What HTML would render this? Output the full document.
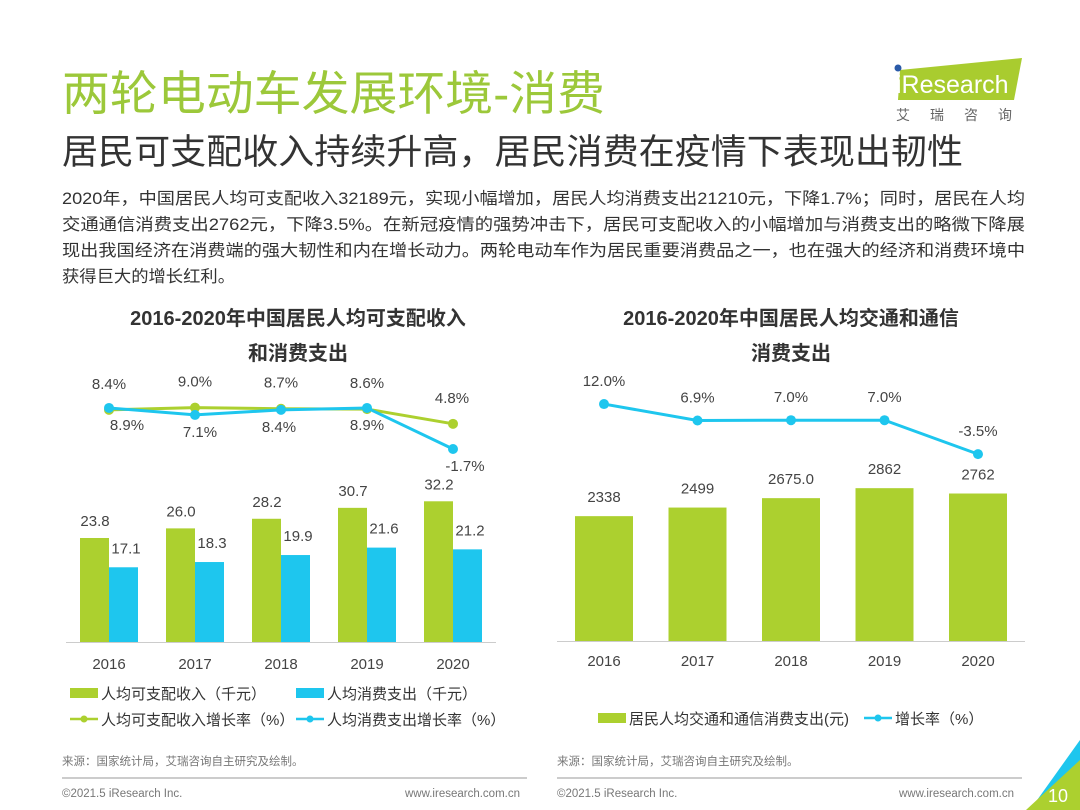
<!DOCTYPE html>
<html><head><meta charset="utf-8"><style>
html,body{margin:0;padding:0;background:#fff;}
svg{display:block;font-family:"Liberation Sans","Noto Sans CJK SC",sans-serif;}
</style></head><body>
<svg id="s" width="1080" height="810" viewBox="0 0 1080 810" xmlns="http://www.w3.org/2000/svg">
<text x="62" y="110" font-size="47" fill="#9cc83a" textLength="543" lengthAdjust="spacingAndGlyphs">两轮电动车发展环境-消费</text>
<text x="62" y="164" font-size="35" fill="#333" textLength="901" lengthAdjust="spacingAndGlyphs">居民可支配收入持续升高，居民消费在疫情下表现出韧性</text>
<g font-size="16.5" fill="#333">
<text x="62" y="204" textLength="963" lengthAdjust="spacingAndGlyphs">2020年，中国居民人均可支配收入32189元，实现小幅增加，居民人均消费支出21210元，下降1.7%；同时，居民在人均</text>
<text x="62" y="230" textLength="963" lengthAdjust="spacingAndGlyphs">交通通信消费支出2762元，下降3.5%。在新冠疫情的强势冲击下，居民可支配收入的小幅增加与消费支出的略微下降展</text>
<text x="62" y="256" textLength="963" lengthAdjust="spacingAndGlyphs">现出我国经济在消费端的强大韧性和内在增长动力。两轮电动车作为居民重要消费品之一，也在强大的经济和消费环境中</text>
<text x="62" y="282" textLength="173" lengthAdjust="spacingAndGlyphs">获得巨大的增长红利。</text>
</g>
<g>
<polygon points="900,70 1022,58 1014,100 898,100" fill="#a9cc2f"/>
<circle cx="898" cy="68" r="3.5" fill="#2a5aa8"/>
<text x="896" y="93" font-size="25" fill="#fff">iResearch</text>
<text x="896" y="120" font-size="14" fill="#666" letter-spacing="20">艾瑞咨询</text>
</g>
<text x="298" y="325" font-size="20" font-weight="bold" fill="#333" text-anchor="middle">2016-2020年中国居民人均可支配收入</text>
<text x="298" y="360" font-size="20" font-weight="bold" fill="#333" text-anchor="middle">和消费支出</text>
<text x="791" y="325" font-size="20" font-weight="bold" fill="#333" text-anchor="middle">2016-2020年中国居民人均交通和通信</text>
<text x="791" y="360" font-size="20" font-weight="bold" fill="#333" text-anchor="middle">消费支出</text>
<g id="lc"></g>
<g id="rc"></g>
<g font-size="15" fill="#333">
<rect x="70" y="688" width="28" height="10" fill="#acd02f"/>
<text x="101" y="699">人均可支配收入（千元）</text>
<rect x="296" y="688" width="28" height="10" fill="#1ec6ee"/>
<text x="327" y="699">人均消费支出（千元）</text>
<line x1="70" y1="719" x2="98" y2="719" stroke="#acd02f" stroke-width="2.5"/><circle cx="84" cy="719" r="3.5" fill="#acd02f"/>
<text x="101" y="725">人均可支配收入增长率（%）</text>
<line x1="296" y1="719" x2="324" y2="719" stroke="#1ec6ee" stroke-width="2.5"/><circle cx="310" cy="719" r="3.5" fill="#1ec6ee"/>
<text x="327" y="725">人均消费支出增长率（%）</text>
<rect x="598" y="713" width="28" height="10" fill="#acd02f"/>
<text x="629" y="724">居民人均交通和通信消费支出(元)</text>
<line x1="864" y1="718" x2="892" y2="718" stroke="#1ec6ee" stroke-width="2.5"/><circle cx="878" cy="718" r="3.5" fill="#1ec6ee"/>
<text x="895" y="724">增长率（%）</text>
</g>
<g font-size="11.5" fill="#777">
<text x="62" y="765">来源：国家统计局，艾瑞咨询自主研究及绘制。</text>
<text x="557" y="765">来源：国家统计局，艾瑞咨询自主研究及绘制。</text>
<line x1="62" y1="778" x2="527" y2="778" stroke="#999"/>
<line x1="557" y1="778" x2="1022" y2="778" stroke="#999"/>
<text x="62" y="797">©2021.5 iResearch Inc.</text>
<text x="520" y="797" text-anchor="end">www.iresearch.com.cn</text>
<text x="557" y="797">©2021.5 iResearch Inc.</text>
<text x="1014" y="797" text-anchor="end">www.iresearch.com.cn</text>
</g>
<g>
<polygon points="1080,740 1080,810 1030,810" fill="#1ec6ee"/>
<polygon points="1080,760 1080,810 1026,810" fill="#acd02f"/>
<text x="1058" y="802" font-size="18" fill="#fff" text-anchor="middle">10</text>
</g>
</svg>
<script>
var years=["2016","2017","2018","2019","2020"];
var income=[23.8,26.0,28.2,30.7,32.2];
var expense=[17.1,18.3,19.9,21.6,21.2];
var incomeRate=[8.4,9.0,8.7,8.6,4.8];
var expenseRate=[8.9,7.1,8.4,8.9,-1.7];
var transport=[2338,2499,2675.0,2862,2762];
var transportLabels=["2338","2499","2675.0","2862","2762"];
var transportRate=[12.0,6.9,7.0,7.0,-3.5];

var NS="http://www.w3.org/2000/svg";
function mk(p,t,a,txt){var e=document.createElementNS(NS,t);for(var k in a)e.setAttribute(k,a[k]);if(txt!==undefined)e.textContent=txt;p.appendChild(e);return e;}
var G="#acd02f",B="#1ec6ee",T="#444";
var lc=document.getElementById('lc');
var lx=function(i){return 109+i*86;};
var lyBar=function(v){return 642-v*4.37;};
var lyRate=function(v){return 442.4-v*3.87;};
var ax=mk(lc,'line',{x1:66,y1:642.5,x2:496,y2:642.5,stroke:'#ccc'});


years.forEach(function(y,i){
 var c=lx(i);
 var r=mk(lc,'rect',{x:c-29,y:lyBar(income[i]),width:29,height:642-lyBar(income[i]),fill:G});
 
 
 var r2=mk(lc,'rect',{x:c,y:lyBar(expense[i]),width:29,height:642-lyBar(expense[i]),fill:B});
 
 
 var t=mk(lc,'text',{x:c-14,y:lyBar(income[i])-12,'font-size':15,fill:T,'text-anchor':'middle'},income[i].toFixed(1));
 
 
 var t2=mk(lc,'text',{x:c+17,y:lyBar(expense[i])-14,'font-size':15,fill:T,'text-anchor':'middle'},expense[i].toFixed(1));
 
 
 var xl=mk(lc,'text',{x:c,y:669,'font-size':15,fill:T,'text-anchor':'middle'},y);
 
 
});
function line(p,xs,ys,vals,col,nm){
 var d=vals.map(function(v,i){return (i?'L':'M')+xs(i)+','+ys(v);}).join(' ');
 var pth=mk(p,'path',{d:d,fill:'none',stroke:col,'stroke-width':3});
 
 
 vals.forEach(function(v,i){
  var c=mk(p,'circle',{cx:xs(i),cy:ys(v),r:5,fill:col});
  
  
 });
}
line(lc,lx,lyRate,incomeRate,G,'income-rate');
line(lc,lx,lyRate,expenseRate,B,'expense-rate');
incomeRate.forEach(function(v,i){
 var t=mk(lc,'text',{x:lx(i),y:lyRate(v)-21,'font-size':15,fill:T,'text-anchor':'middle'},v.toFixed(1)+'%');
 if(i==4)t.setAttribute('x',lx(i)-1);
 
 
});
expenseRate.forEach(function(v,i){
 var off=[18,5,-2,0,12][i];
 var t=mk(lc,'text',{x:lx(i)+off,y:lyRate(v)+22,'font-size':15,fill:T,'text-anchor':'middle'},v.toFixed(1)+'%');
 
 
});
var rc=document.getElementById('rc');
var rx=function(i){return 604+i*93.5;};
var ryBar=function(v){return 641-v*0.0534;};
var ryRate=function(v){return 442.8-v*3.23;};
var ax2=mk(rc,'line',{x1:557,y1:641.5,x2:1025,y2:641.5,stroke:'#ccc'});


years.forEach(function(y,i){
 var c=rx(i);
 var r=mk(rc,'rect',{x:c-29,y:ryBar(transport[i]),width:58,height:641-ryBar(transport[i]),fill:G});
 
 
 var t=mk(rc,'text',{x:c,y:ryBar(transport[i])-14,'font-size':15,fill:T,'text-anchor':'middle'},transportLabels[i]);
 
 
 var xl=mk(rc,'text',{x:c,y:666,'font-size':15,fill:T,'text-anchor':'middle'},y);
 
 
 var rl=mk(rc,'text',{x:c,y:ryRate(transportRate[i])-18,'font-size':15,fill:T,'text-anchor':'middle'},transportRate[i].toFixed(1)+'%');
 
 
});
line(rc,rx,ryRate,transportRate,B,'transport-rate');
</script>
</body></html>
